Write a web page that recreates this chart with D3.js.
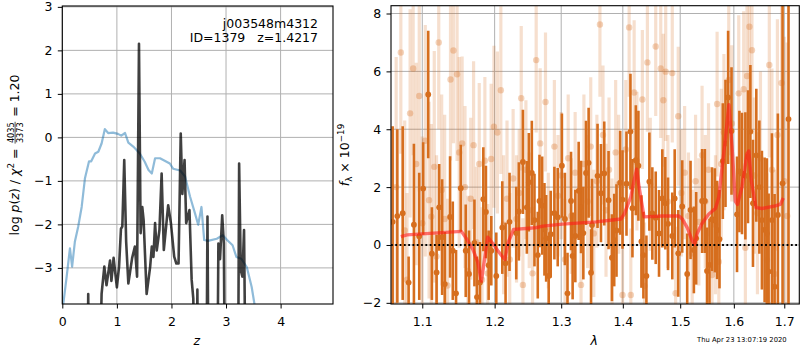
<!DOCTYPE html>
<html>
<head>
<meta charset="utf-8">
<script src="https://cdn.jsdelivr.net/npm/d3@7"></script>
<style>
  body { margin: 0; background: #fff; }
  svg text { font-family: "DejaVu Sans", sans-serif; fill: #000; white-space: pre; }
</style>
</head>
<body>
<svg id="fig" width="800" height="350"></svg>
<script>
// ---------- redshift panel: log p(z) and the chi-square curve ----------
const zTicks = [0, 1, 2, 3, 4];
const logpTicks = [-3, -2, -1, 0, 1, 2, 3];

// [z, log p(z)]  (values below the plot floor are clipped)
const logPz = [
  [0.40,-6],[0.46,-6],[0.475,-3.6],[0.49,-6],[0.68,-6],[0.72,-3.6],[0.77,-2.97],[0.81,-3.4],
  [0.875,-2.83],[0.90,-3.3],[0.94,-2.77],[1.00,-3.45],[1.04,-2.97],[1.075,-2.1],[1.10,-2.05],
  [1.135,-0.52],[1.17,-2.4],[1.21,-3.36],[1.28,-2.77],[1.33,-2.51],[1.37,-3.2],[1.405,2.15],
  [1.435,-2.2],[1.465,-1.6],[1.49,-1.9],[1.545,-3.6],[1.61,-2.97],[1.64,-2.51],[1.67,-2.75],
  [1.70,-1.97],[1.73,-2.6],[1.78,-2.13],[1.82,-0.83],[1.86,-2.59],[1.94,-1.56],[1.99,-1.97],
  [2.05,-2.74],[2.09,-2.9],[2.13,-2.9],[2.17,0.09],[2.20,-1.3],[2.24,-0.52],[2.27,-1.97],
  [2.33,-1.67],[2.37,-3.27],[2.40,-3.7],[2.43,-6],[2.465,-6],[2.475,-3.5],[2.49,-6],[2.64,-6],
  [2.66,-1.82],[2.68,-6],[2.84,-6],[2.86,-2.44],[2.89,-2.8],[2.93,-1.79],[2.96,-2.44],[2.98,-6],
  [3.22,-6],[3.24,-0.6],[3.27,-3.05],[3.30,-3.2],[3.33,-2.13],[3.36,-6],[3.60,-6]
];

// [z, scaled chi-square]
const chi2Curve = [
  [0.00,-4.5],[0.02,-3.81],[0.08,-3.2],[0.14,-2.55],[0.18,-2.97],[0.23,-2.4],[0.29,-2.06],
  [0.355,-1.6],[0.415,-0.94],[0.49,-0.55],[0.53,-0.55],[0.60,-0.37],[0.66,-0.33],[0.72,-0.14],
  [0.78,0.19],[0.84,0.10],[0.93,0.11],[1.02,0.08],[1.08,0.04],[1.15,0.10],[1.21,-0.12],
  [1.30,-0.21],[1.42,-0.37],[1.51,-0.56],[1.58,-0.75],[1.64,-0.83],[1.70,-0.48],[1.79,-0.48],
  [1.85,-0.52],[1.97,-0.60],[2.03,-0.72],[2.16,-0.76],[2.25,-0.90],[2.34,-1.36],[2.43,-1.74],
  [2.49,-2.01],[2.55,-1.60],[2.60,-2.36],[2.67,-2.38],[2.83,-2.33],[2.94,-2.25],[3.02,-2.36],
  [3.12,-2.48],[3.19,-2.75],[3.28,-2.79],[3.38,-2.98],[3.47,-3.44],[3.53,-3.90]
];

// ---------- spectrum panel ----------
const lamTicks = [1.1, 1.2, 1.3, 1.4, 1.5, 1.6, 1.7];
const fluxTicks = [-2, 0, 2, 4, 6, 8];

// [lambda (micron), flux, error] -- second (noisier) spectrum
const spectrumB = [
  [1.066,2.0,4.5],[1.072,6.65,3.5],[1.077,0.5,3.8],[1.080,-1.2,3.0],[1.084,4.55,3.6],[1.088,6.1,3.0],
  [1.092,2.8,3.5],[1.096,5.15,3.3],[1.100,0.75,3.0],[1.104,3.6,4.0],[1.109,1.55,3.4],[1.112,0.98,3.2],
  [1.116,2.7,4.0],[1.119,-0.4,3.5],[1.122,7.0,3.0],[1.126,1.9,3.3],[1.130,0.9,3.6],[1.134,-1.4,3.0],
  [1.138,5.72,2.8],[1.142,6.72,3.2],[1.147,5.9,3.0],[1.150,3.2,3.3],[1.154,3.51,3.0],[1.158,2.0,2.8],
  [1.162,-0.9,2.6],[1.166,1.6,2.8],[1.170,3.45,2.9],[1.174,0.1,2.6],[1.178,2.8,2.8],[1.182,-1.2,2.5],
  [1.186,2.91,2.9],[1.190,-0.98,2.4],[1.195,2.97,2.6],[1.199,4.09,2.8],[1.204,3.89,2.8],[1.209,5.35,2.9],
  [1.213,0.7,2.4],[1.218,1.6,2.7],[1.222,-0.5,2.3],[1.227,2.3,2.4],[1.232,0.9,2.2],[1.236,1.8,2.2],
  [1.239,5.07,2.5],[1.2415,-1.38,2.3],[1.246,2.6,2.4],[1.251,1.2,2.0],[1.256,-0.98,2.3],[1.2615,6.39,2.5],
  [1.2676,3.51,2.6],[1.2757,4.94,2.4],[1.280,0.5,2.0],[1.2894,3.4,2.3],[1.295,1.7,2.1],[1.300,2.4,2.2],
  [1.306,-0.5,2.1],[1.311,3.0,2.2],[1.316,1.0,2.0],[1.322,2.5,2.1],[1.3314,-1.38,2.0],[1.336,2.8,2.4],
  [1.342,1.5,2.3],[1.347,3.4,2.4],[1.352,0.4,2.2],[1.357,2.2,2.3],[1.362,7.62,2.5],[1.367,3.8,2.4],
  [1.372,1.2,2.3],[1.377,2.6,2.5],[1.382,0.0,2.3],[1.388,3.2,2.5],[1.393,2.1,2.4],[1.3995,-1.73,2.2],
  [1.405,3.3,2.4],[1.4107,7.52,2.4],[1.4135,-1.73,2.3],[1.4192,5.27,2.5],[1.424,2.9,2.4],[1.4333,5.03,2.4],
  [1.437,-1.42,2.2],[1.442,6.31,2.4],[1.447,2.1,2.3],[1.4565,6.86,2.4],[1.4653,6.1,2.4],[1.4699,5.0,2.3],
  [1.4741,5.99,2.4],[1.478,1.5,2.3],[1.4858,5.94,2.4],[1.4918,-1.67,2.3],[1.4965,4.45,2.4],[1.502,1.8,2.2],
  [1.508,2.5,2.3],[1.515,1.0,2.2],[1.5218,-0.29,2.2],[1.528,2.2,2.3],[1.534,0.8,2.2],[1.540,3.1,2.4],
  [1.546,1.5,2.3],[1.552,2.6,2.3],[1.5586,-1.04,2.3],[1.565,0.7,2.4],[1.5681,4.87,2.5],[1.5713,-0.58,2.4],
  [1.576,2.8,2.6],[1.581,3.9,2.7],[1.5902,5.7,2.6],[1.596,4.2,2.7],[1.6094,5.24,2.7],[1.6190,5.38,2.7],
  [1.6223,-0.1,2.5],[1.6255,5.84,2.7],[1.6302,7.54,2.8],[1.6352,6.73,2.9],[1.640,2.4,2.7],[1.646,1.1,2.8],
  [1.652,3.0,3.0],[1.6649,-0.52,3.0],[1.6697,6.22,3.2],[1.675,2.6,3.5],[1.680,-1.0,3.6],[1.686,3.8,4.0],
  [1.6945,5.6,4.5],[1.700,2.2,5.0],[1.706,1.0,6.0]
];

// [lambda (micron), flux, error] -- primary spectrum
const spectrumA = [
  [1.0615,0.8,3.3],[1.0675,1.0,3.0],[1.0744,1.1,3.0],[1.0821,-1.3,0.9],[1.0890,0.7,2.8],[1.0960,0.3,2.2],
  [1.1012,1.95,1.6],[1.1079,5.2,2.2],[1.1128,-0.3,1.6],[1.1191,-0.95,1.3],[1.1226,1.3,1.5],[1.1266,0.27,2.0],
  [1.1302,-1.35,1.8],[1.1374,0.97,2.1],[1.1411,-0.2,1.7],[1.1456,-1.67,1.5],[1.1521,1.96,1.5],[1.1590,-0.2,1.6],
  [1.1636,-1.0,1.5],[1.1712,0.07,1.5],[1.1748,-1.8,1.4],[1.1790,-1.3,1.4],[1.1838,1.58,1.8],[1.1875,1.14,1.6],
  [1.1914,-0.7,1.2],[1.1952,-0.2,1.2],
  [1.2024,-1.07,1.5],[1.2111,0.6,1.6],[1.2159,-0.63,1.4],[1.2217,0.8,1.7],[1.2316,0.41,1.6],[1.2355,1.16,1.7],
  [1.2415,2.87,1.8],[1.2474,1.3,1.6],[1.2504,2.17,1.7],[1.2549,2.49,1.8],[1.2589,0.86,1.6],[1.2639,-0.35,1.5],
  [1.2665,1.52,1.6],[1.2706,1.36,1.7],[1.2741,0.54,1.6],[1.2767,0.23,1.5],[1.2806,-1.07,1.4],[1.2837,0.37,1.5],
  [1.2894,1.1,1.6],[1.2946,0.96,1.7],[1.3011,2.74,1.8],[1.3058,0.9,1.6],[1.3099,-1.67,1.4],[1.3155,1.52,1.7],
  [1.3180,-0.38,1.5],[1.3223,0.31,1.6],[1.3276,1.87,1.7],[1.3314,1.31,1.6],[1.3351,0.41,1.6],[1.3394,2.49,1.8],
  [1.3436,2.84,1.9],[1.3475,-0.96,1.5],
  [1.3491,0.69,1.6],[1.3581,2.39,1.8],[1.3637,1.79,1.7],[1.3691,2.47,1.8],[1.3762,1.55,1.7],[1.3818,-0.44,1.5],
  [1.3856,0.17,1.6],[1.3894,0.5,1.6],[1.3956,2.15,1.8],[1.3995,1.57,1.7],[1.4062,2.12,1.8],[1.4129,3.92,2.0],
  [1.4163,1.27,1.7],[1.4221,2.93,1.9],[1.4265,2.74,1.9],[1.4317,0.12,1.6],[1.4351,-0.35,1.5],[1.4403,-1.07,1.4],
  [1.4454,2.19,1.7],[1.4506,1.09,1.6],[1.4565,0.94,1.6],[1.4623,0.4,1.5],[1.4681,1.61,1.7],[1.4734,1.44,1.6],
  [1.4782,0.73,1.6],[1.4858,0.31,1.5],[1.4901,1.61,1.7],[1.4965,-0.29,1.5],[1.5037,1.33,1.6],[1.5127,-1.0,1.4],
  [1.5188,1.21,1.7],
  [1.5249,-0.17,1.5],[1.5291,0.23,1.6],[1.5401,1.52,1.8],[1.5451,1.52,1.8],[1.5492,-0.9,1.5],[1.5538,-0.69,1.6],
  [1.5586,0.89,1.8],[1.5637,0.85,1.8],[1.5681,0.52,1.7],[1.5726,0.2,1.7],[1.5789,2.9,2.0],[1.5840,3.51,2.2],
  [1.5890,5.1,2.3],[1.5955,3.94,2.2],[1.6061,1.06,2.0],[1.6107,2.54,2.1],[1.6157,2.47,2.1],[1.6223,2.39,2.2],
  [1.6274,3.05,2.3],[1.6321,3.92,2.3],[1.6372,1.44,2.2],[1.6438,3.1,2.3],[1.6498,2.0,2.3],[1.6549,0.86,2.4],
  [1.6603,0.52,2.5],[1.6649,0.4,2.6],[1.6683,-0.92,2.7],[1.6750,0.86,3.0],[1.6803,-1.44,3.2],[1.6870,1.04,3.5],
  [1.6965,2.13,10],[1.7087,4.35,10]
];

// [lambda, model flux] -- best-fit template
const modelSpec = [
  [1.072,0.29],[1.080,0.35],[1.110,0.40],[1.153,0.47],[1.160,0.22],[1.169,-0.15],[1.176,-0.6],
  [1.181,-1.25],[1.184,-0.75],[1.190,0.27],[1.1975,0.05],[1.2047,-0.2],[1.2111,-0.4],[1.2150,-0.5],
  [1.2193,0.06],[1.2276,0.54],[1.2514,0.58],[1.2615,0.60],[1.2716,0.65],[1.3020,0.72],[1.3557,0.80],
  [1.3968,0.90],[1.4024,1.07],[1.4135,1.66],[1.4192,2.24],[1.4235,2.62],[1.4277,2.0],[1.4362,0.97],
  [1.4681,1.0],[1.4978,1.0],[1.5037,0.9],[1.5127,0.6],[1.5218,0.15],[1.5262,0.02],[1.5309,0.4],
  [1.5401,0.75],[1.5526,1.07],[1.5650,1.26],[1.5713,1.66],[1.5776,2.69],[1.5840,3.7],[1.5905,4.85],
  [1.5965,3.4],[1.6030,1.5],[1.6070,1.40],[1.6157,2.0],[1.6255,3.15],[1.6290,3.25],[1.6341,2.2],
  [1.6432,1.29],[1.6549,1.26],[1.6817,1.35],[1.6918,1.40],[1.6980,1.62]
];

const objName = "j003548m4312";
const objInfo = "ID=1379   z=1.4217";
const stamp = "Thu Apr 23 13:07:19 2020";

// ---------- drawing ----------
const svg = d3.select("#fig");
const FS = 12.5;
const gridColor = "#b0b0b0";
const orange = "#d66e1e";
const minus = v => String(v).replace("-", "\u2212");

const L = {x0: 62.3, x1: 333, y0: 6, y1: 304};
const R = {x0: 391, x1: 799.3, y0: 5.7, y1: 304};

const xz = d3.scaleLinear().domain([0, 4.96]).range([L.x0, L.x1]);
const yp = d3.scaleLinear().domain([-3.83, 3.02]).range([L.y1, L.y0]);
const xl = d3.scaleLog().domain([1.0594, 1.731]).range([R.x0, R.x1]);
const yf = d3.scaleLinear().domain([-2.04, 8.27]).range([R.y1, R.y0]);

const defs = svg.append("defs");
function clip(id, b) {
  defs.append("clipPath").attr("id", id).append("rect")
    .attr("x", b.x0).attr("y", b.y0).attr("width", b.x1 - b.x0).attr("height", b.y1 - b.y0);
}
clip("clipL", L); clip("clipR", R);

function grid(b, xs, xt, ys, yt) {
  const g = svg.append("g");
  g.selectAll(".gx").data(xt).join("line")
    .attr("x1", d => xs(d)).attr("x2", d => xs(d)).attr("y1", b.y0).attr("y2", b.y1)
    .attr("stroke", gridColor).attr("stroke-width", 1);
  g.selectAll(".gy").data(yt).join("line")
    .attr("y1", d => ys(d)).attr("y2", d => ys(d)).attr("x1", b.x0).attr("x2", b.x1)
    .attr("stroke", gridColor).attr("stroke-width", 1);
}

function axes(b, xs, xt, xfmt, ys, yt) {
  const ax = svg.append("g").attr("transform", `translate(0,${b.y1})`)
    .call(d3.axisBottom(xs).tickValues(xt).tickSize(4.5).tickPadding(8.2).tickFormat(xfmt));
  const ay = svg.append("g").attr("transform", `translate(${b.x0},0)`)
    .call(d3.axisLeft(ys).tickValues(yt).tickSize(4.5).tickPadding(5.4).tickFormat(minus));
  [ax, ay].forEach(a => {
    a.select(".domain").remove();
    a.selectAll("text").attr("font-size", FS).attr("font-family", "DejaVu Sans").attr("fill", "#000");
    a.selectAll("line").attr("stroke", "#000").attr("stroke-width", 1);
  });
  svg.append("rect").attr("x", b.x0).attr("y", b.y0)
    .attr("width", b.x1 - b.x0).attr("height", b.y1 - b.y0)
    .attr("fill", "none").attr("stroke", "#000").attr("stroke-width", 1.1);
}

// left panel
grid(L, xz, zTicks, yp, logpTicks);
const gL = svg.append("g").attr("clip-path", "url(#clipL)");
gL.append("path").datum(chi2Curve)
  .attr("d", d3.line().x(d => xz(d[0])).y(d => yp(d[1])))
  .attr("fill", "none").attr("stroke", "#1f77b4").attr("stroke-opacity", 0.5)
  .attr("stroke-width", 2.2).attr("stroke-linejoin", "round");
gL.append("path").datum(logPz)
  .attr("d", d3.line().x(d => xz(d[0])).y(d => yp(d[1])))
  .attr("fill", "none").attr("stroke", "#000").attr("stroke-opacity", 0.75)
  .attr("stroke-width", 2.6).attr("stroke-linejoin", "round");
axes(L, xz, zTicks, d3.format("d"), yp, logpTicks);

svg.append("text").attr("x", 318).attr("y", 27.5).attr("text-anchor", "end")
  .attr("font-size", FS).text(objName);
svg.append("text").attr("x", 318).attr("y", 42).attr("text-anchor", "end")
  .attr("font-size", FS).text(objInfo);

// right panel
grid(R, xl, lamTicks, yf, fluxTicks);
const gR = svg.append("g").attr("clip-path", "url(#clipR)");
gR.selectAll(".eb").data(spectrumB).join("line")
  .attr("x1", d => xl(d[0])).attr("x2", d => xl(d[0]))
  .attr("y1", d => yf(d[1] - d[2])).attr("y2", d => yf(d[1] + d[2]))
  .attr("stroke", orange).attr("stroke-opacity", 0.22).attr("stroke-width", 3.2);
gR.selectAll(".mb").data(spectrumB).join("circle")
  .attr("cx", d => xl(d[0])).attr("cy", d => yf(d[1])).attr("r", 3.2)
  .attr("fill", orange).attr("fill-opacity", 0.3);
gR.selectAll(".ea").data(spectrumA).join("line")
  .attr("x1", d => xl(d[0])).attr("x2", d => xl(d[0]))
  .attr("y1", d => yf(d[1] - d[2])).attr("y2", d => yf(d[1] + d[2]))
  .attr("stroke", orange).attr("stroke-width", 2.6);
gR.selectAll(".ma").data(spectrumA).join("circle")
  .attr("cx", d => xl(d[0])).attr("cy", d => yf(d[1])).attr("r", 2.9)
  .attr("fill", orange);
gR.append("path").datum(modelSpec)
  .attr("d", d3.line().x(d => xl(d[0])).y(d => yf(d[1])))
  .attr("fill", "none").attr("stroke", "#ff1a1a").attr("stroke-opacity", 0.6)
  .attr("stroke-width", 3.4).attr("stroke-linejoin", "round");
gR.append("line").attr("x1", R.x0).attr("x2", R.x1).attr("y1", yf(0)).attr("y2", yf(0))
  .attr("stroke", "#000").attr("stroke-width", 1.8).attr("stroke-dasharray", "1.8,2.5");
axes(R, xl, lamTicks, d3.format(".1f"), yf, fluxTicks);

// axis labels
svg.append("text").attr("x", xz(2.465)).attr("y", 345).attr("text-anchor", "middle")
  .attr("font-size", FS).attr("font-style", "italic").text("z");
svg.append("text").attr("x", (R.x0 + R.x1) / 2 - 1).attr("y", 345).attr("text-anchor", "middle")
  .attr("font-size", FS).attr("font-style", "italic").text("λ");

// rich rotated label built from pieces; pieces: {t, it, sub, sup}
function richText(parent, pieces, size) {
  const t = parent.append("text").attr("font-size", size);
  let shift = 0;
  pieces.forEach(p => {
    let target = 0;
    let fs = size;
    if (p.sup) { target = -0.42 * size; fs = size * 0.7; }
    if (p.sub) { target = 0.25 * size; fs = size * 0.7; }
    t.append("tspan").attr("dy", target - shift).attr("font-size", fs)
      .attr("font-style", p.it ? "italic" : null).text(p.t);
    shift = target;
  });
  return t;
}

// left y label: log p(z) / chi^2 = 4035/3373 = 1.20
{
  const g = svg.append("g");
  const t1 = richText(g, [
    {t: "log "}, {t: "p", it: true}, {t: "("}, {t: "z", it: true}, {t: ") / "},
    {t: "χ", it: true}, {t: "2", sup: true}, {t: " = "}
  ], FS);
  const w1 = t1.node().getComputedTextLength();
  const fg = g.append("g");
  const num = fg.append("text").attr("font-size", 8.2).attr("text-anchor", "middle").text("4035");
  const den = fg.append("text").attr("font-size", 8.2).attr("text-anchor", "middle").text("3373");
  const fw = Math.max(num.node().getComputedTextLength(), den.node().getComputedTextLength()) + 1;
  const fx = w1 + 1;
  num.attr("x", fx + fw / 2).attr("y", -5);
  den.attr("x", fx + fw / 2).attr("y", 3.6);
  fg.append("line").attr("x1", fx).attr("x2", fx + fw).attr("y1", -3.9).attr("y2", -3.9)
    .attr("stroke", "#000").attr("stroke-width", 0.7);
  const t3 = g.append("text").attr("font-size", FS).attr("x", fx + fw + 1).text(" = 1.20");
  const total = fx + fw + 1 + t3.node().getComputedTextLength();
  g.attr("transform", `translate(19,${155 + total / 2}) rotate(-90)`);
}

// right y label: f_lambda x 10^-19
{
  const g = svg.append("g");
  const t = richText(g, [
    {t: "f", it: true}, {t: "λ", sub: true}, {t: " × 10"}, {t: "\u221219", sup: true}
  ], FS);
  const w = t.node().getComputedTextLength();
  g.attr("transform", `translate(349,${155 + w / 2}) rotate(-90)`);
}

svg.append("text").attr("x", 697).attr("y", 342).attr("font-size", 6.8).text(stamp);
</script>
</body>
</html>
